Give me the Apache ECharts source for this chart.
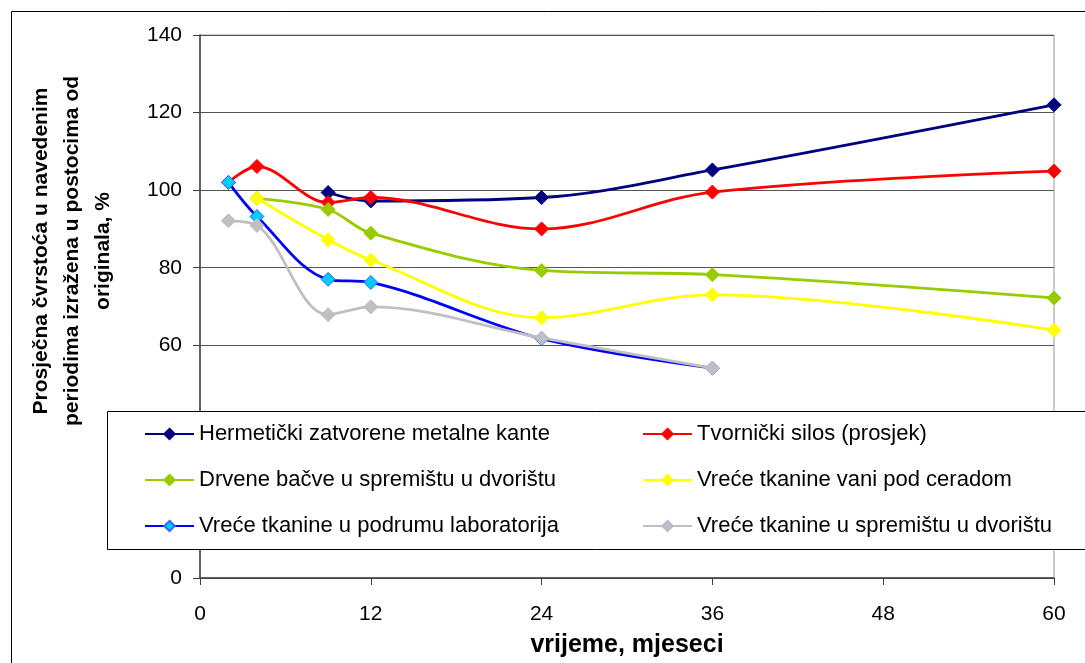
<!DOCTYPE html>
<html>
<head>
<meta charset="utf-8">
<script src="https://cdn.jsdelivr.net/npm/echarts@6/dist/echarts.min.js"></script>
<style>
html,body{margin:0;padding:0;background:#fff;}
#chart{width:1085px;height:663px;}
</style>
</head>
<body>
<div id="chart"></div>
<script>
// months of storage
var months = [2, 4, 9, 12, 24, 36, 60];
var seriesNames = [
  'Hermetički zatvorene metalne kante',
  'Tvornički silos (prosjek)',
  'Drvene bačve u spremištu u dvorištu',
  'Vreće tkanine vani pod ceradom',
  'Vreće tkanine u podrumu laboratorija',
  'Vreće tkanine u spremištu u dvorištu'
];
var hermeticke = [null, null, 99.4, 97.2, 98.1, 105.2, 122.0];
var silos      = [102.0, 106.1, 96.8, 98.1, 90.0, 99.5, 104.9];
var drvene     = [null, 97.9, 95.0, 88.9, 79.3, 78.2, 72.2];
var vani       = [null, 97.9, 87.2, 82.0, 67.1, 73.0, 63.9];
var podrum     = [102.0, 93.2, 77.0, 76.2, 61.7, 54.1, null];
var spremiste  = [92.1, 90.9, 67.9, 69.9, 61.9, 54.1, null];
var xTicks = [0, 12, 24, 36, 48, 60];
var yTicks = [0, 20, 40, 60, 80, 100, 120, 140];

var FONT = "'Liberation Sans', Arial, sans-serif";

function pairs(vals) {
  var out = [];
  for (var i = 0; i < months.length; i++) {
    if (vals[i] !== null) out.push([months[i], vals[i]]);
  }
  return out;
}

var styles = [
  {line: '#000080', fill: '#000080', border: '#000080'},
  {line: '#FF0000', fill: '#FF0000', border: '#FF0000'},
  {line: '#99CC00', fill: '#99CC00', border: '#99CC00'},
  {line: '#FFFF00', fill: '#FFFF00', border: '#FFFF00'},
  {line: '#0000FF', fill: '#00CCFF', border: '#3366FF'},
  {line: '#C0C0C0', fill: '#C0C0C0', border: '#B8BCD0'}
];
var allData = [hermeticke, silos, drvene, vani, podrum, spremiste];

var series = allData.map(function (vals, i) {
  return {
    name: seriesNames[i],
    type: 'line',
    data: pairs(vals),
    smooth: 0.35,
    symbol: 'diamond',
    symbolSize: 14,
    showSymbol: true,
    lineStyle: {color: styles[i].line, width: 2.8},
    itemStyle: {color: styles[i].fill, borderColor: styles[i].border, borderWidth: 1},
    emphasis: {disabled: true},
    z: 2 + i * 0.01
  };
});

var legendCommon = {
  orient: 'vertical',
  top: 422,
  padding: 0,
  itemWidth: 49,
  itemHeight: 13,
  itemGap: 22,
  z: 10,
  selectedMode: false,
  textStyle: {fontFamily: FONT, fontSize: 22, color: '#000', lineHeight: 24}
};

var chart = echarts.init(document.getElementById('chart'), null, {renderer: 'canvas'});
chart.setOption({
  animation: false,
  backgroundColor: '#fff',
  grid: {left: 200, right: 31, top: 35, bottom: 83, show: true, borderColor: '#999999', borderWidth: 1},
  xAxis: {
    type: 'value', min: xTicks[0], max: xTicks[xTicks.length - 1], interval: 12,
    name: 'vrijeme, mjeseci', nameLocation: 'middle', nameGap: 55,
    nameTextStyle: {fontFamily: FONT, fontSize: 25, fontWeight: 'bold', color: '#000'},
    axisLine: {lineStyle: {color: '#404040', width: 1.5}},
    axisTick: {show: true, length: 7, lineStyle: {color: '#404040'}},
    axisLabel: {fontFamily: FONT, fontSize: 21, color: '#000', margin: 26},
    splitLine: {show: false}
  },
  yAxis: {
    type: 'value', min: yTicks[0], max: yTicks[yTicks.length - 1], interval: 20,
    axisLine: {show: true, lineStyle: {color: '#404040', width: 1.5}},
    axisTick: {show: true, length: 7, lineStyle: {color: '#404040'}},
    axisLabel: {fontFamily: FONT, fontSize: 21, color: '#000', margin: 18},
    splitLine: {show: true, lineStyle: {color: '#555555', width: 1}}
  },
  legend: [
    Object.assign({}, legendCommon, {left: 144, data: [seriesNames[0], seriesNames[2], seriesNames[4]]}),
    Object.assign({}, legendCommon, {left: 642, data: [seriesNames[1], seriesNames[3], seriesNames[5]]})
  ],
  graphic: [
    {type: 'rect', z: 0, silent: true,
     shape: {x: 11.5, y: 11.5, width: 1200, height: 800},
     style: {fill: 'none', stroke: '#000', lineWidth: 1}},
    {type: 'rect', z: 5, silent: true,
     shape: {x: 107.5, y: 411.5, width: 1100, height: 138},
     style: {fill: '#fff', stroke: '#000', lineWidth: 1}},
    {type: 'text', z: 5, silent: true,
     x: 72, y: 251, rotation: Math.PI / 2,
     style: {
       text: 'Prosječna čvrstoća u navedenim\nperiodima izražena u postocima od\noriginala, %',
       fontFamily: FONT, fontSize: 21, fontWeight: 'bold', fill: '#000',
       align: 'center', verticalAlign: 'middle', lineHeight: 31
     }}
  ],
  series: series
});
</script>
</body>
</html>
